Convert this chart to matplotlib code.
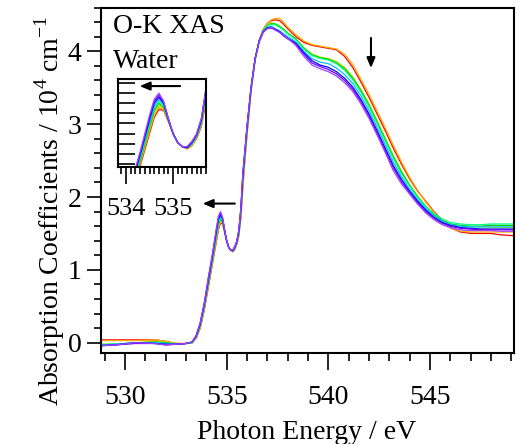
import matplotlib
matplotlib.use("Agg")
import matplotlib.pyplot as plt
from matplotlib.ticker import MultipleLocator

plt.rcParams['font.family'] = ['Liberation Serif', 'DejaVu Serif']
plt.rcParams['mathtext.fontset'] = 'custom'
plt.rcParams['mathtext.rm'] = 'Liberation Serif'

# photon energy grid (eV)
energy = [528.8, 529.5, 530.5, 531.5, 532.0, 532.5, 533.0,
          533.3, 533.5, 533.7, 533.9, 534.1, 534.3, 534.5, 534.6, 534.7,
          534.8, 534.9, 535.0, 535.1, 535.2, 535.3, 535.4, 535.5, 535.6,
          535.7, 535.8, 535.9, 536.0, 536.2, 536.4, 536.6, 536.8, 537.0,
          537.2, 537.4, 537.6, 537.8, 538.0,
          538.4, 538.8, 539.2, 539.6, 540.0, 540.4, 540.8, 541.2, 541.6,
          542.0, 542.4, 542.8, 543.2, 543.6, 544.0, 544.4, 544.8, 545.2,
          545.6, 546.0, 546.5, 547.0, 547.5, 548.0, 548.5, 549.1]

# absorption coefficients (10^4 cm^-1), one list per spectrum
red = [0.04, 0.04, 0.04, 0.04, 0.02, -0.01, -0.01,
       0.00, 0.06, 0.20, 0.45, 0.76, 1.08, 1.40, 1.56, 1.64, 1.63, 1.52, 1.40,
       1.31, 1.27, 1.25, 1.28, 1.35, 1.47,
       1.72, 2.15, 2.52, 2.85, 3.45, 3.88, 4.15, 4.30, 4.38, 4.42, 4.43, 4.42,
       4.37, 4.31,
       4.20, 4.12, 4.08, 4.06, 4.04, 4.02, 3.93, 3.78, 3.58, 3.37, 3.14, 2.91,
       2.67, 2.45, 2.25, 2.08, 1.94, 1.80, 1.68, 1.58, 1.52, 1.50, 1.50, 1.50,
       1.48, 1.47]
orange = [0.03, 0.03, 0.03, 0.04, 0.02, -0.01, -0.01,
          0.00, 0.06, 0.21, 0.46, 0.78, 1.10, 1.42, 1.58, 1.66, 1.64, 1.52, 1.40,
          1.31, 1.27, 1.25, 1.28, 1.36, 1.48,
          1.74, 2.18, 2.54, 2.86, 3.45, 3.88, 4.15, 4.30, 4.38, 4.43, 4.45, 4.45,
          4.40, 4.33,
          4.23, 4.14, 4.09, 4.07, 4.05, 4.03, 3.96, 3.82, 3.62, 3.41, 3.18, 2.95,
          2.71, 2.48, 2.27, 2.09, 1.93, 1.79, 1.67, 1.58, 1.53, 1.52, 1.52, 1.52,
          1.52, 1.52]
yellowgreen = [-0.02, -0.02, 0.00, 0.02, 0.01, -0.01, -0.01,
               0.00, 0.07, 0.22, 0.48, 0.80, 1.12, 1.45, 1.61, 1.68, 1.65, 1.53,
               1.40, 1.31, 1.27, 1.26, 1.29, 1.36, 1.49,
               1.76, 2.21, 2.56, 2.88, 3.46, 3.88, 4.14, 4.29, 4.36, 4.39, 4.38,
               4.35, 4.30, 4.25,
               4.17, 4.05, 3.96, 3.92, 3.90, 3.86, 3.78, 3.65, 3.48, 3.28, 3.05,
               2.81, 2.57, 2.36, 2.17, 2.01, 1.87, 1.75, 1.66, 1.60, 1.58, 1.57,
               1.57, 1.58, 1.58, 1.58]
green = [-0.03, -0.02, 0.00, 0.01, 0.00, -0.02, -0.01,
         0.00, 0.08, 0.23, 0.49, 0.81, 1.13, 1.47, 1.63, 1.70, 1.66, 1.53, 1.40,
         1.31, 1.27, 1.26, 1.30, 1.37, 1.50,
         1.78, 2.24, 2.58, 2.90, 3.47, 3.89, 4.14, 4.28, 4.35, 4.38, 4.37, 4.34,
         4.30, 4.25,
         4.17, 4.04, 3.95, 3.91, 3.89, 3.84, 3.76, 3.63, 3.46, 3.26, 3.03, 2.79,
         2.55, 2.34, 2.16, 2.00, 1.87, 1.76, 1.68, 1.63, 1.61, 1.60, 1.60, 1.61,
         1.61, 1.61]
springgreen = [-0.02, -0.02, 0.00, 0.00, -0.01, -0.02, -0.01,
               0.00, 0.08, 0.24, 0.50, 0.83, 1.15, 1.49, 1.65, 1.72, 1.68, 1.54,
               1.40, 1.31, 1.27, 1.26, 1.30, 1.38, 1.51,
               1.80, 2.26, 2.60, 2.92, 3.48, 3.89, 4.14, 4.28, 4.35, 4.37, 4.36,
               4.33, 4.29, 4.24,
               4.16, 4.03, 3.94, 3.90, 3.88, 3.83, 3.74, 3.61, 3.44, 3.24, 3.01,
               2.77, 2.53, 2.32, 2.15, 1.99, 1.87, 1.77, 1.70, 1.65, 1.63, 1.62,
               1.62, 1.63, 1.63, 1.63]
cyan = [-0.03, -0.02, 0.00, 0.00, -0.01, -0.02, -0.01,
        0.01, 0.08, 0.25, 0.51, 0.85, 1.17, 1.51, 1.67, 1.74, 1.69, 1.54, 1.40,
        1.31, 1.27, 1.26, 1.30, 1.38, 1.52,
        1.82, 2.29, 2.61, 2.93, 3.49, 3.90, 4.14, 4.27, 4.33, 4.34, 4.31, 4.28,
        4.24, 4.20,
        4.13, 4.00, 3.90, 3.85, 3.83, 3.77, 3.68, 3.56, 3.39, 3.19, 2.96, 2.72,
        2.48, 2.28, 2.11, 1.96, 1.84, 1.74, 1.67, 1.62, 1.60, 1.59, 1.59, 1.59,
        1.59, 1.59]
blue = [-0.04, -0.03, 0.00, -0.01, -0.02, -0.02, -0.01,
        0.01, 0.09, 0.26, 0.53, 0.86, 1.19, 1.54, 1.70, 1.76, 1.70, 1.54, 1.40,
        1.31, 1.27, 1.26, 1.31, 1.39, 1.53,
        1.83, 2.31, 2.63, 2.95, 3.50, 3.90, 4.14, 4.27, 4.32, 4.33, 4.30, 4.27,
        4.22, 4.18,
        4.11, 3.98, 3.87, 3.81, 3.78, 3.72, 3.63, 3.51, 3.34, 3.14, 2.91, 2.67,
        2.43, 2.24, 2.08, 1.94, 1.82, 1.72, 1.65, 1.61, 1.58, 1.57, 1.56, 1.56,
        1.56, 1.56]
blueviolet = [-0.04, -0.03, -0.01, -0.01, -0.03, -0.02, -0.01,
              0.01, 0.10, 0.27, 0.54, 0.88, 1.20, 1.56, 1.72, 1.78, 1.71, 1.55,
              1.40, 1.31, 1.27, 1.27, 1.32, 1.39, 1.54,
              1.84, 2.33, 2.64, 2.96, 3.50, 3.90, 4.13, 4.26, 4.31, 4.32, 4.29,
              4.26, 4.21, 4.17,
              4.10, 3.96, 3.84, 3.79, 3.75, 3.69, 3.60, 3.48, 3.31, 3.11, 2.88,
              2.64, 2.40, 2.21, 2.06, 1.92, 1.80, 1.71, 1.64, 1.60, 1.57, 1.56,
              1.55, 1.55, 1.55, 1.55]
violet = [-0.04, -0.03, 0.00, -0.01, -0.03, -0.02, -0.01,
          0.01, 0.10, 0.28, 0.55, 0.90, 1.22, 1.58, 1.74, 1.80, 1.72, 1.55, 1.40,
          1.31, 1.27, 1.27, 1.32, 1.40, 1.55,
          1.85, 2.35, 2.65, 2.97, 3.50, 3.90, 4.13, 4.26, 4.31, 4.33, 4.29, 4.26,
          4.22, 4.18,
          4.08, 3.93, 3.81, 3.76, 3.72, 3.66, 3.57, 3.45, 3.28, 3.08, 2.85, 2.61,
          2.36, 2.18, 2.04, 1.90, 1.78, 1.69, 1.62, 1.58, 1.55, 1.54, 1.54, 1.54,
          1.53, 1.53]

spectra = [red, orange, yellowgreen, green, springgreen, cyan, blue, blueviolet, violet]
colors = ['#ff0000', '#ffa500', '#a8e000', '#00d000', '#00ff80',
          '#00bfff', '#0000ff', '#6a00ff', '#a040ff']

fig = plt.figure(figsize=(5.21, 4.44), dpi=100)
ax = fig.add_axes([0.1939, 0.2050, 0.7936, 0.7781])

for vals, c in zip(spectra, colors):
    ax.plot(energy, vals, color=c, lw=0.9)

ax.set_xlim(528.82, 549.16)
ax.set_ylim(-0.14, 4.6)
ax.xaxis.set_major_locator(MultipleLocator(5))
ax.xaxis.set_minor_locator(MultipleLocator(1))
ax.yaxis.set_major_locator(MultipleLocator(1))
ax.yaxis.set_minor_locator(MultipleLocator(0.2))
ax.tick_params(which='both', direction='out', width=1.2, labelsize=20)
ax.tick_params(axis='x', which='major', length=12, pad=11)
ax.tick_params(axis='x', which='minor', length=6)
ax.tick_params(axis='y', which='major', length=10, pad=4)
ax.tick_params(axis='y', which='minor', length=5)
for s in ax.spines.values():
    s.set_linewidth(1.5)

fig.text(0.589, 0.027, 'Photon Energy / eV', fontsize=20, ha='center', va='center')
fig.text(0.096, 0.525, 'Absorption Coefficients / 10$^{4}$ cm$^{-1}$',
         fontsize=20, rotation=90, ha='center', va='center')

fig.text(0.217, 0.926, 'O-K XAS', fontsize=20, va='baseline')
fig.text(0.217, 0.847, 'Water', fontsize=20, va='baseline')

arrow = dict(arrowstyle='-|>,head_length=0.6,head_width=0.25', color='black', lw=1.5)
ax.annotate('', xy=(533.68, 1.91), xytext=(535.54, 1.91), arrowprops=arrow)
ax.annotate('', xy=(542.1, 3.73), xytext=(542.1, 4.22), arrowprops=arrow)

# inset around the pre-edge peak
ins = fig.add_axes([0.2265, 0.6239, 0.1689, 0.1982])
for vals, c in zip(spectra, colors):
    ins.plot(energy, vals, color=c, lw=0.9)
ins.set_xlim(533.83, 535.70)
ins.set_ylim(1.07, 1.94)
ins.xaxis.set_major_locator(MultipleLocator(1))
ins.xaxis.set_minor_locator(MultipleLocator(0.1))
ins.yaxis.set_major_locator(MultipleLocator(0.1))
ins.tick_params(axis='x', which='major', direction='out', length=12, width=1.2,
                labelsize=19, pad=10)
ins.tick_params(axis='x', which='minor', direction='out', length=5, width=1.2)
ins.tick_params(axis='y', which='major', direction='in', length=12, width=1.2,
                labelleft=False)
for s in ins.spines.values():
    s.set_linewidth(1.5)
ins.annotate('', xy=(534.23, 1.87), xytext=(535.21, 1.87), arrowprops=arrow)

fig.savefig('out.png', dpi=100)
